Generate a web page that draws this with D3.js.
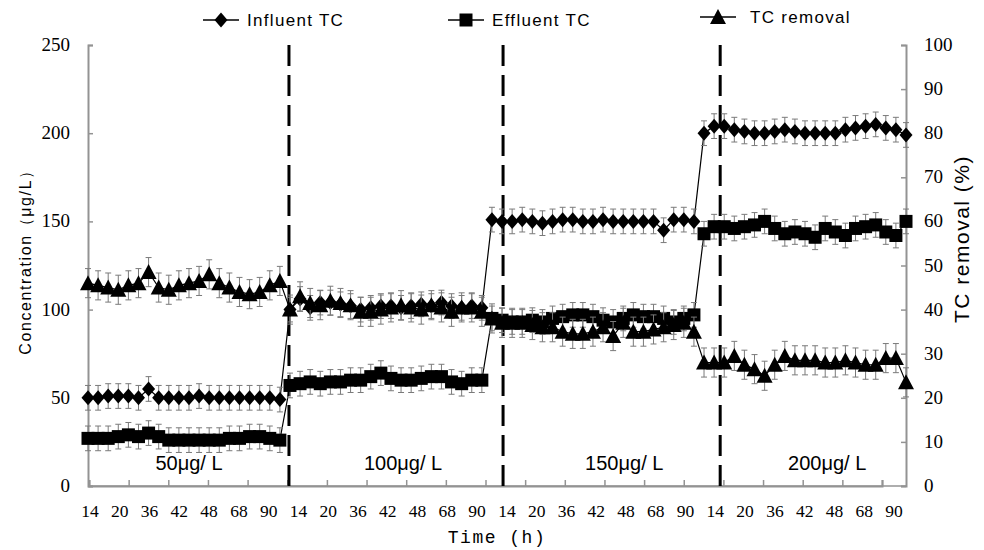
<!DOCTYPE html>
<html>
<head>
<meta charset="utf-8">
<script src="https://cdn.jsdelivr.net/npm/d3@7"></script>
<style>
  body { margin: 0; background: #fff; }
  svg { display: block; }
</style>
</head>
<body>
<div class="graph"></div>
<script>
// data (4 concentration phases)
const influent = [
  50, 50, 51, 51, 51, 50, 55, 50, 50, 50, 50, 51, 50, 50, 50, 50, 50, 50, 50, 49,
  100, 106, 101, 104, 104, 103, 102, 100, 101, 102, 102, 101, 102, 103, 102, 104, 102, 101, 102, 101,
  151, 150, 150, 151, 150, 149, 150, 151, 151, 150, 150, 151, 150, 150, 150, 150, 150, 145, 151, 151, 150,
  200, 204, 204, 202, 201, 200, 200, 201, 202, 201, 200, 200, 200, 200, 202, 203, 204, 205, 203, 202, 199
];
const effluent = [
  27, 27, 27, 28, 29, 28, 30, 28, 26, 26, 26, 26, 26, 26, 27, 27, 28, 28, 27, 26,
  57, 58, 59, 58, 59, 59, 60, 60, 62, 64, 61, 60, 60, 61, 62, 62, 59, 58, 60, 60,
  95, 94, 93, 93, 94, 93, 95, 96, 97, 97, 96, 94, 93, 95, 97, 96, 96, 95, 93, 95, 97,
  143, 147, 147, 146, 147, 148, 150, 146, 143, 144, 143, 141, 146, 144, 142, 146, 147, 148, 144, 142, 150
];
const removal = [
  46, 45.5, 45, 44.5, 45.5, 46, 48.5, 45, 44.5, 45.5, 46, 46.5, 48, 46, 45, 44, 43.5, 44, 45.5, 46.5,
  40, 43, 41.5, 41, 42, 41.5, 41, 39.5, 39.5, 40, 40.5, 41, 40.5, 40, 41, 40.5, 39.5, 40.5, 40.5, 39.5,
  38, 37, 37, 37, 36.5, 36, 36, 35, 34.5, 34.5, 35, 36, 34, 37, 35, 35, 35.5, 36, 36.5, 37, 35,
  28, 28, 28, 29.5, 27.5, 26.5, 25, 27.5, 29.5, 28.5, 28.5, 28.5, 28, 28, 28.5, 28, 27.5, 27.5, 29, 29, 23.5
];
const errConc = 7;      // +/- ug/L
const errRemoval = 3.3; // +/- %

const phaseBreaks = [19.9, 41.1, 62.6];   // point index where the dashed lines sit
const phaseLabels = ["50μg/ L", "100μg/ L", "150μg/ L", "200μg/ L"];
const phaseLabelAt = [10, 31.2, 53.1, 73.2];
const hourLabels = ["14", "20", "36", "42", "48", "68", "90"];
const leftTicks = [0, 50, 100, 150, 200, 250];
const rightTicks = [0, 10, 20, 30, 40, 50, 60, 70, 80, 90, 100];
const legendKey = ["Influent TC", "Effluent TC", "TC removal"];

function main() {
  //setting
  const width = 984;
  const height = 550;
  const left = 88, right = 906, top = 45, bottom = 486;
  const axisColor = "#939393";
  const serif = "'Liberation Serif', 'Times New Roman', serif";
  const sans = "'Liberation Sans', Arial, sans-serif";

  const n = influent.length;
  const xScale = d3.scaleLinear().domain([0, n - 1]).range([left, right]);
  const yScale = d3.scaleLinear().domain([0, 250]).range([bottom, top]);
  const y2Scale = d3.scaleLinear().domain([0, 100]).range([bottom, top]);

  const svg = d3
    .select(".graph")
    .append("svg")
    .attr("width", width)
    .attr("height", height)
    .style("background", "#fff");

  //axes
  const yAxis = d3.axisRight(yScale).tickValues(leftTicks).tickSize(5).tickFormat("");
  svg.append("g")
    .attr("transform", "translate(" + left + ",0)")
    .call(yAxis);
  const y2Axis = d3.axisLeft(y2Scale).tickValues(rightTicks).tickSize(5).tickFormat("");
  svg.append("g")
    .attr("transform", "translate(" + right + ",0)")
    .call(y2Axis);

  // x ticks are not on the points in the original, 21 marks ~39.6px apart
  const tickScale = d3.scaleLinear().domain([0, 20]).range([89, 882]);
  const xAxis = d3.axisTop(tickScale).tickValues(d3.range(0, 21)).tickSize(6).tickFormat("");
  svg.append("g")
    .attr("transform", "translate(0," + bottom + ")")
    .call(xAxis);
  svg.append("line")
    .attr("x1", left).attr("x2", right)
    .attr("y1", bottom).attr("y2", bottom);

  svg.selectAll(".domain, .tick line, line")
    .attr("stroke", axisColor)
    .attr("stroke-width", 1.5);
  svg.selectAll(".domain").attr("stroke-width", 2);

  // tick labels
  svg.selectAll(".ly")
    .data(leftTicks)
    .enter()
    .append("text")
    .attr("x", 70)
    .attr("y", d => yScale(d) + 6)
    .attr("text-anchor", "end")
    .style("font", "19px " + serif)
    .text(d => d);
  svg.selectAll(".ry")
    .data(rightTicks)
    .enter()
    .append("text")
    .attr("x", 924)
    .attr("y", d => y2Scale(d) + 6)
    .style("font", "19px " + serif)
    .text(d => d);

  const xLabels = [].concat(hourLabels, hourLabels, hourLabels, hourLabels);
  const xLabelScale = d3.scalePoint().domain(d3.range(xLabels.length)).range([90, 894]);
  svg.selectAll(".lx")
    .data(xLabels)
    .enter()
    .append("text")
    .attr("x", (d, i) => xLabelScale(i))
    .attr("y", 517)
    .attr("text-anchor", "middle")
    .style("font", "17.5px " + serif)
    .text(d => d);

  //axis titles
  svg.append("text")
    .attr("x", 497).attr("y", 543)
    .attr("text-anchor", "middle")
    .style("font", "18px 'Liberation Mono', 'DejaVu Sans Mono', monospace")
    .style("letter-spacing", "1.5px")
    .text("Time (h)");
  svg.append("text")
    .attr("transform", "translate(31,258) rotate(-90)")
    .attr("text-anchor", "middle")
    .style("font", "16px " + sans)
    .style("letter-spacing", "1.6px")
    .text("Concentration（μg/L）");
  svg.append("text")
    .attr("transform", "translate(969,239) rotate(-90)")
    .attr("text-anchor", "middle")
    .style("font", "21px " + sans)
    .style("letter-spacing", "1.5px")
    .text("TC removal (%)");

  //phase separators
  svg.selectAll(".sep")
    .data(phaseBreaks)
    .enter()
    .append("line")
    .attr("x1", d => xScale(d)).attr("x2", d => xScale(d))
    .attr("y1", top).attr("y2", bottom + 6)
    .attr("stroke", "#000")
    .attr("stroke-width", 3)
    .attr("stroke-dasharray", "21,9");

  svg.selectAll(".phase")
    .data(phaseLabels)
    .enter()
    .append("text")
    .attr("x", (d, i) => xScale(phaseLabelAt[i]))
    .attr("y", 470)
    .attr("text-anchor", "middle")
    .style("font", "20px " + sans)
    .text(d => d);

  //series
  const series = [
    { key: legendKey[0], values: influent, y: yScale, err: errConc, shape: "diamond" },
    { key: legendKey[1], values: effluent, y: yScale, err: errConc, shape: "square" },
    { key: legendKey[2], values: removal, y: y2Scale, err: errRemoval, shape: "triangle" }
  ];

  const shapePath = {
    diamond: "M0,-7.5L6.5,0L0,7.5L-6.5,0Z",
    square: "M-6.5,-6.5H6.5V6.5H-6.5Z",
    triangle: "M0,-8L8,7H-8Z"
  };

  series.forEach(s => {
    const line = d3.line()
      .x((d, i) => xScale(i))
      .y(d => s.y(d));
    svg.append("path")
      .datum(s.values)
      .attr("d", line)
      .attr("fill", "none")
      .attr("stroke", "#000")
      .attr("stroke-width", 1.2);

    // error bars
    const eb = svg.append("g").attr("stroke", "#7a7a7a").attr("stroke-width", 1);
    eb.selectAll("line.v")
      .data(s.values)
      .enter()
      .append("line")
      .attr("x1", (d, i) => xScale(i)).attr("x2", (d, i) => xScale(i))
      .attr("y1", d => s.y(d - s.err)).attr("y2", d => s.y(d + s.err));
    [-1, 1].forEach(sign => {
      eb.selectAll("line.c" + sign)
        .data(s.values)
        .enter()
        .append("line")
        .attr("x1", (d, i) => xScale(i) - 3).attr("x2", (d, i) => xScale(i) + 3)
        .attr("y1", d => s.y(d + sign * s.err)).attr("y2", d => s.y(d + sign * s.err));
    });

    svg.append("g")
      .selectAll("path")
      .data(s.values)
      .enter()
      .append("path")
      .attr("d", shapePath[s.shape])
      .attr("transform", (d, i) => "translate(" + xScale(i) + "," + s.y(d) + ")")
      .attr("fill", "#000");
  });

  //legend
  const legendX = [203, 448, 700];
  const legendY = [20, 20, 17];
  const lg = svg.selectAll(".legend")
    .data(series)
    .enter()
    .append("g")
    .attr("transform", (d, i) => "translate(" + legendX[i] + "," + legendY[i] + ")");
  lg.append("line")
    .attr("x1", 0).attr("x2", 36)
    .attr("stroke", "#000").attr("stroke-width", 1.5);
  lg.append("path")
    .attr("d", d => shapePath[d.shape])
    .attr("transform", "translate(18,0)")
    .attr("fill", "#000");
  lg.append("text")
    .attr("x", (d, i) => (i === 2 ? 50 : 44))
    .attr("y", 6)
    .style("font", "17px " + sans)
    .style("letter-spacing", "1.3px")
    .text(d => d.key);
}

main();
</script>
</body>
</html>
